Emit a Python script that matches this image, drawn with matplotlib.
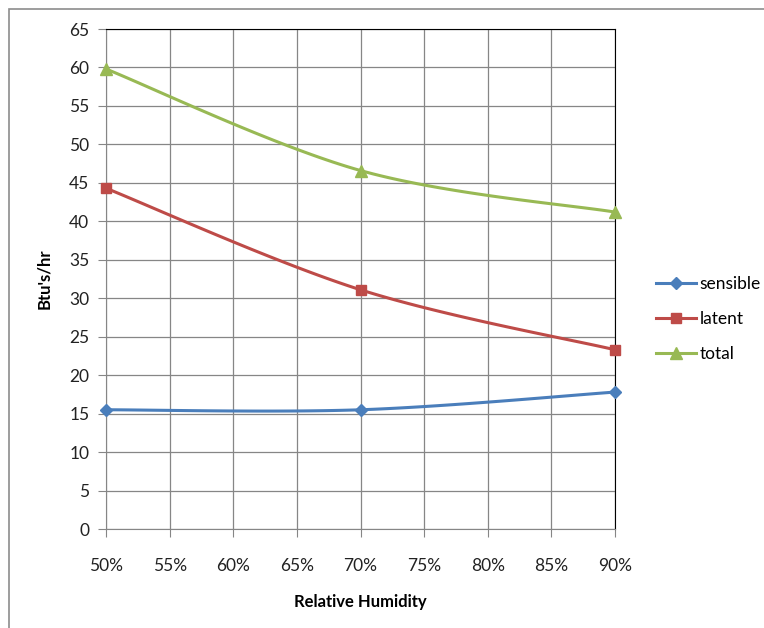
import numpy as np
import matplotlib
matplotlib.use("Agg")
import matplotlib.pyplot as plt
from matplotlib.patches import Rectangle

plt.rcParams['font.family'] = ['Lato', 'DejaVu Sans']

humidity = [50, 70, 90]
sensible = [15.5, 15.5, 17.8]
latent = [44.3, 31.1, 23.3]
total = [59.8, 46.6, 41.2]

x_ticks = [50, 55, 60, 65, 70, 75, 80, 85, 90]
x_labels = ['50%', '55%', '60%', '65%', '70%', '75%', '80%', '85%', '90%']
y_ticks = list(range(0, 66, 5))


def smooth(xs, ys, n=40):
    # bezier smoothing through each point, tangents from neighbours (1/6 rule)
    p = np.column_stack([xs, ys]).astype(float)
    p = np.vstack([p[0], p, p[-1]])
    out = []
    t = np.linspace(0, 1, n)[:, None]
    for i in range(1, len(p) - 2):
        b0 = p[i]
        b3 = p[i + 1]
        b1 = b0 + (p[i + 1] - p[i - 1]) / 6
        b2 = b3 - (p[i + 2] - p[i]) / 6
        seg = ((1 - t) ** 3) * b0 + 3 * ((1 - t) ** 2) * t * b1 + 3 * (1 - t) * t ** 2 * b2 + t ** 3 * b3
        out.append(seg if i == 1 else seg[1:])
    c = np.vstack(out)
    return c[:, 0], c[:, 1]


fig = plt.figure(figsize=(7.64, 6.28), dpi=100)
# chart frame, right/bottom edges run off the image
fig.patches.append(Rectangle((9 / 764, -10 / 628), 770 / 764, 629 / 628, transform=fig.transFigure,
                             fill=False, edgecolor='#8c8c8c', linewidth=1.2))
ax = fig.add_axes([106 / 764, 99 / 628, 509 / 764, 500 / 628])

series = [
    ('sensible', sensible, '#4a7ebb', 'D', 6),
    ('latent', latent, '#be4b48', 's', 7.5),
    ('total', total, '#98b954', '^', 8),
]
for name, vals, col, mk, ms in series:
    sx, sy = smooth(humidity, vals)
    ax.plot(sx, sy, color=col, linewidth=2.2, solid_capstyle='round', clip_on=False, zorder=3)
    ax.plot(humidity, vals, linestyle='none', marker=mk, markersize=ms, color=col, clip_on=False, zorder=4)
    ax.plot([], [], color=col, linewidth=2.2, marker=mk, markersize=ms, label=name)

ax.set_xlim(50, 90)
ax.set_ylim(0, 65)
ax.set_xticks(x_ticks)
ax.set_xticklabels(x_labels)
ax.set_yticks(y_ticks)
ax.grid(True, color='#868686', linewidth=0.9)
ax.set_axisbelow(True)
for s in ['left', 'bottom']:
    ax.spines[s].set_color('#868686')
for s in ['top', 'right']:
    ax.spines[s].set_color('black')
ax.tick_params(axis='both', direction='out', length=6, color='#868686', labelsize=12.5, labelcolor='#222222')
ax.tick_params(axis='x', pad=15)
ax.tick_params(axis='y', pad=6)

ax.set_xlabel('Relative Humidity', fontsize=12, fontweight='bold', labelpad=14)
ax.set_ylabel("Btu's/hr", fontsize=12, fontweight='bold', labelpad=12)
ax.yaxis.set_label_coords(-0.105, 0.5)

ax.legend(loc='center left', bbox_to_anchor=(1.05, 0.42), frameon=False, fontsize=12.5,
          handlelength=2.3, labelspacing=1.1, handletextpad=0.2)

fig.savefig('out.png', dpi=100)
